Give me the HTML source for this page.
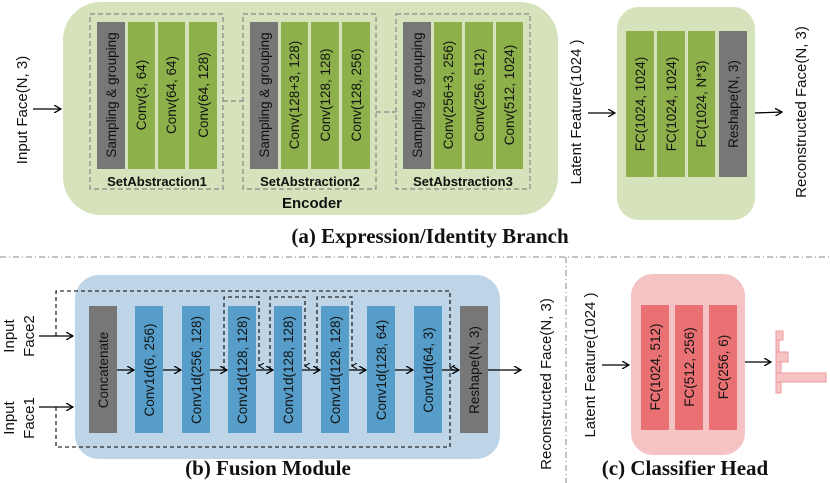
<!DOCTYPE html>
<html><head><meta charset="utf-8"><style>
body{margin:0;background:#fff;}
svg{display:block;}
.t{font-family:"Liberation Sans",sans-serif;font-size:13.5px;fill:#111;}
.b{font-family:"Liberation Sans",sans-serif;font-size:13px;font-weight:bold;fill:#111;}
.s{font-family:"Liberation Sans",sans-serif;font-size:15px;fill:#111;}
.title{font-family:"Liberation Serif",serif;font-size:21px;font-weight:bold;fill:#111;}
</style></head><body>
<svg width="830" height="483" viewBox="0 0 830 483" xmlns="http://www.w3.org/2000/svg">
<defs>
<marker id="ah" markerWidth="8" markerHeight="8" refX="7" refY="4" orient="auto" markerUnits="userSpaceOnUse"><path d="M0,0 L7,4 L0,8" fill="none" stroke="#000" stroke-width="1.3"/></marker>
<marker id="as" markerWidth="6" markerHeight="6" refX="3" refY="5" orient="auto" markerUnits="userSpaceOnUse"><path d="M0,0 L3,5 L6,0" fill="none" stroke="#000" stroke-width="1"/></marker>
</defs>
<!-- (a) -->
<rect x="63" y="2" width="495" height="213" rx="38" fill="#d5e2bb"/>
<g fill="none" stroke="#888" stroke-dasharray="5,3" stroke-width="1.2">
<rect x="90" y="14" width="133" height="175"/>
<rect x="243" y="14" width="133" height="175"/>
<rect x="396" y="14" width="134" height="175"/>
<path d="M223,101 H243 M376,112 H396"/>
</g>
<g>
<rect x="97" y="22" width="28" height="147" fill="#777"/>
<rect x="128" y="22" width="27" height="147" fill="#8db04a"/>
<rect x="158" y="22" width="27" height="147" fill="#8db04a"/>
<rect x="189" y="22" width="28" height="147" fill="#8db04a"/>
<rect x="250" y="22" width="28" height="147" fill="#777"/>
<rect x="281" y="22" width="27" height="147" fill="#8db04a"/>
<rect x="311" y="22" width="28" height="147" fill="#8db04a"/>
<rect x="342" y="22" width="28" height="147" fill="#8db04a"/>
<rect x="403" y="22" width="28" height="147" fill="#777"/>
<rect x="434" y="22" width="28" height="147" fill="#8db04a"/>
<rect x="465" y="22" width="28" height="147" fill="#8db04a"/>
<rect x="496" y="22" width="27" height="147" fill="#8db04a"/>
</g>
<g class="t" text-anchor="middle">
<text transform="translate(116,95) rotate(-90)">Sampling &amp; grouping</text>
<text transform="translate(146,95) rotate(-90)">Conv(3, 64)</text>
<text transform="translate(176,95) rotate(-90)">Conv(64, 64)</text>
<text transform="translate(208,95) rotate(-90)">Conv(64, 128)</text>
<text transform="translate(269,95) rotate(-90)">Sampling &amp; grouping</text>
<text transform="translate(299,95) rotate(-90)">Conv(128+3, 128)</text>
<text transform="translate(330,95) rotate(-90)">Conv(128, 128)</text>
<text transform="translate(361,95) rotate(-90)">Conv(128, 256)</text>
<text transform="translate(422,95) rotate(-90)">Sampling &amp; grouping</text>
<text transform="translate(453,95) rotate(-90)">Conv(256+3, 256)</text>
<text transform="translate(484,95) rotate(-90)">Conv(256, 512)</text>
<text transform="translate(514,95) rotate(-90)">Conv(512, 1024)</text>
</g>
<g class="b" text-anchor="middle">
<text x="157" y="186">SetAbstraction1</text>
<text x="310" y="186">SetAbstraction2</text>
<text x="463" y="186">SetAbstraction3</text>
<text x="312" y="208" style="font-size:15px">Encoder</text>
<text x="686" y="208" style="font-size:15px">Decoder</text>
</g>
<text class="s" text-anchor="middle" transform="translate(27,110) rotate(-90)">Input Face(N, 3)</text>
<line x1="33" y1="109" x2="61" y2="109" stroke="#000" stroke-width="1.3" marker-end="url(#ah)"/>
<text class="s" text-anchor="middle" transform="translate(581,112) rotate(-90)">Latent Feature(1024 )</text>
<line x1="588" y1="113" x2="615" y2="113" stroke="#000" stroke-width="1.3" marker-end="url(#ah)"/>
<rect x="617" y="7" width="138" height="213" rx="22" fill="#d5e2bb"/>
<rect x="626" y="31" width="28" height="146" fill="#8db04a"/>
<rect x="657" y="31" width="28" height="146" fill="#8db04a"/>
<rect x="688" y="31" width="27" height="146" fill="#8db04a"/>
<rect x="719" y="31" width="28" height="146" fill="#777"/>
<g class="t" text-anchor="middle">
<text transform="translate(645,104) rotate(-90)">FC(1024, 1024)</text>
<text transform="translate(676,104) rotate(-90)">FC(1024, 1024)</text>
<text transform="translate(706,104) rotate(-90)">FC(1024, N*3)</text>
<text transform="translate(738,104) rotate(-90)">Reshape(N, 3)</text>
</g>
<line x1="755" y1="113" x2="782" y2="112" stroke="#000" stroke-width="1.3" marker-end="url(#ah)"/>
<text class="s" text-anchor="middle" transform="translate(806,112) rotate(-90)">Reconstructed Face(N, 3)</text>
<text class="title" x="430" y="243" text-anchor="middle">(a) Expression/Identity Branch</text>
<!-- separators -->
<line x1="0" y1="257" x2="830" y2="257" stroke="#888" stroke-dasharray="6,3,1,3" stroke-width="1"/>
<line x1="566" y1="257" x2="566" y2="483" stroke="#888" stroke-dasharray="6,3,1,3" stroke-width="1"/>
<!-- (b) -->
<rect x="75" y="275" width="425" height="184" rx="24" fill="#bed5e8"/>
<rect x="89" y="306" width="28" height="127" fill="#777"/>
<rect x="460" y="306" width="28" height="127" fill="#777"/>
<g fill="#569ec9">
<rect x="135" y="306" width="28" height="127"/>
<rect x="182" y="306" width="28" height="127"/>
<rect x="228" y="306" width="28" height="127"/>
<rect x="274" y="306" width="28" height="127"/>
<rect x="321" y="306" width="28" height="127"/>
<rect x="367" y="306" width="28" height="127"/>
<rect x="414" y="306" width="28" height="127"/>
</g>
<g class="t" text-anchor="middle">
<text transform="translate(108,370) rotate(-90)">Concatenate</text>
<text transform="translate(154,370) rotate(-90)">Conv1d(6, 256)</text>
<text transform="translate(201,370) rotate(-90)">Conv1d(256, 128)</text>
<text transform="translate(247,370) rotate(-90)">Conv1d(128, 128)</text>
<text transform="translate(293,370) rotate(-90)">Conv1d(128, 128)</text>
<text transform="translate(340,370) rotate(-90)">Conv1d(128, 128)</text>
<text transform="translate(386,370) rotate(-90)">Conv1d(128, 64)</text>
<text transform="translate(433,370) rotate(-90)">Conv1d(64, 3)</text>
<text transform="translate(479,370) rotate(-90)">Reshape(N, 3)</text>
</g>
<g stroke="#000" stroke-width="1.2" fill="none">
<line x1="117" y1="370" x2="134" y2="370" marker-end="url(#ah)"/>
<line x1="163" y1="370" x2="181" y2="370" marker-end="url(#ah)"/>
<line x1="210" y1="370" x2="227" y2="370" marker-end="url(#ah)"/>
<line x1="256" y1="370" x2="273" y2="370" marker-end="url(#ah)"/>
<line x1="302" y1="370" x2="320" y2="370" marker-end="url(#ah)"/>
<line x1="349" y1="370" x2="366" y2="370" marker-end="url(#ah)"/>
<line x1="395" y1="370" x2="413" y2="370" marker-end="url(#ah)"/>
<line x1="442" y1="370" x2="459" y2="370" marker-end="url(#ah)"/>
<line x1="488" y1="370" x2="521" y2="370" marker-end="url(#ah)"/>
<line x1="39" y1="336" x2="73" y2="336" marker-end="url(#ah)"/>
<line x1="39" y1="407" x2="73" y2="407" marker-end="url(#ah)"/>
</g>
<g stroke="#000" stroke-width="1.1" fill="none" stroke-dasharray="4,3">
<path d="M56,336 V291 H450 V368" marker-end="url(#as)"/>
<path d="M56,407 V447 H450 V372"/>
<path d="M224,370 V297 H259 V366" marker-end="url(#as)"/>
<path d="M270,370 V297 H305 V366" marker-end="url(#as)"/>
<path d="M317,370 V297 H352 V366" marker-end="url(#as)"/>
</g>
<g class="s" text-anchor="middle">
<text transform="translate(14,336) rotate(-90)">Input</text>
<text transform="translate(34,336) rotate(-90)">Face2</text>
<text transform="translate(14,418) rotate(-90)">Input</text>
<text transform="translate(34,418) rotate(-90)">Face1</text>
<text transform="translate(551,384) rotate(-90)">Reconstructed Face(N, 3)</text>
<text transform="translate(595,365) rotate(-90)">Latent Feature(1024 )</text>
</g>
<text class="title" x="268" y="475" text-anchor="middle">(b) Fusion Module</text>
<!-- (c) -->
<line x1="602" y1="365" x2="629" y2="365" stroke="#000" stroke-width="1.3" marker-end="url(#ah)"/>
<rect x="631" y="274" width="114" height="181" rx="22" fill="#f6c3c5"/>
<g fill="#e97173">
<rect x="641" y="305" width="28" height="125"/>
<rect x="675" y="305" width="28" height="125"/>
<rect x="709" y="305" width="28" height="125"/>
</g>
<g class="t" text-anchor="middle">
<text transform="translate(660,367) rotate(-90)">FC(1024, 512)</text>
<text transform="translate(694,367) rotate(-90)">FC(512, 256)</text>
<text transform="translate(728,367) rotate(-90)">FC(256, 6)</text>
</g>
<line x1="745" y1="362" x2="771" y2="362" stroke="#000" stroke-width="1.3" marker-end="url(#ah)"/>
<g fill="#f6c3c5" stroke="#ef9a9c" stroke-width="1">
<rect x="776" y="331" width="7" height="9"/>
<rect x="776" y="340" width="3" height="12"/>
<rect x="776" y="352" width="12" height="10"/>
<rect x="776" y="362" width="5" height="11"/>
<rect x="776" y="373" width="50" height="9"/>
<rect x="776" y="382" width="5" height="11"/>
</g>
<text class="title" x="685" y="475" text-anchor="middle">(c) Classifier Head</text>
</svg>
</body></html>
